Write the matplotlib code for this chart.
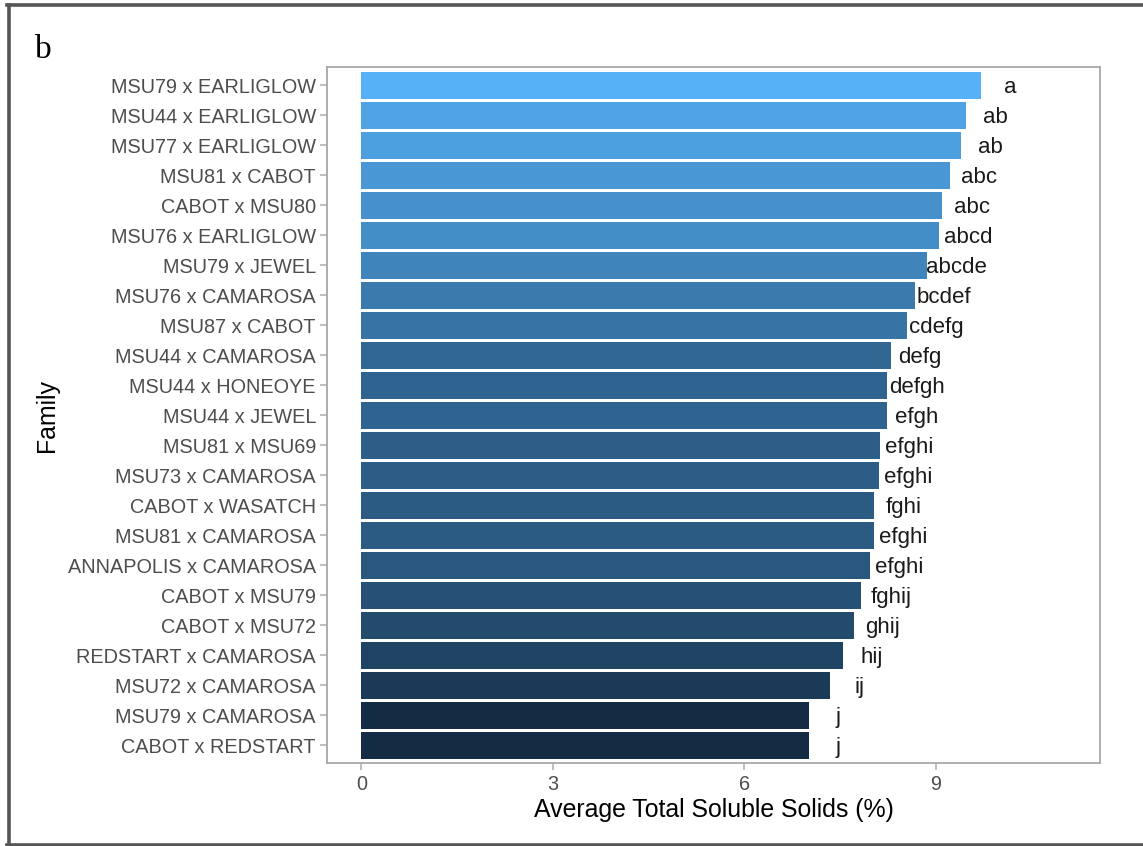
import numpy as np
import matplotlib
matplotlib.use("Agg")
import matplotlib.pyplot as plt
from matplotlib.lines import Line2D

# Mean total soluble solids per strawberry family, with mean-separation letters
families = [
    "MSU79 x EARLIGLOW", "MSU44 x EARLIGLOW", "MSU77 x EARLIGLOW", "MSU81 x CABOT",
    "CABOT x MSU80", "MSU76 x EARLIGLOW", "MSU79 x JEWEL", "MSU76 x CAMAROSA",
    "MSU87 x CABOT", "MSU44 x CAMAROSA", "MSU44 x HONEOYE", "MSU44 x JEWEL",
    "MSU81 x MSU69", "MSU73 x CAMAROSA", "CABOT x WASATCH", "MSU81 x CAMAROSA",
    "ANNAPOLIS x CAMAROSA", "CABOT x MSU79", "CABOT x MSU72", "REDSTART x CAMAROSA",
    "MSU72 x CAMAROSA", "MSU79 x CAMAROSA", "CABOT x REDSTART",
]
tss = [9.71, 9.47, 9.39, 9.22, 9.10, 9.05, 8.86, 8.67, 8.54, 8.29, 8.24, 8.24,
       8.12, 8.10, 8.03, 8.03, 7.97, 7.83, 7.71, 7.54, 7.34, 7.01, 7.01]
letters = ["a", "ab", "ab", "abc", "abc", "abcd", "abcde", "bcdef", "cdefg", "defg",
           "defgh", "efgh", "efghi", "efghi", "fghi", "efghi", "efghi", "fghij",
           "ghij", "hij", "ij", "j", "j"]
x_ticks = [0, 3, 6, 9]


# Continuous fill scale (dark navy -> light blue), interpolated in CIELAB
def _srgb_to_lab(rgb):
    c = np.asarray(rgb, float)
    lin = np.where(c <= 0.04045, c / 12.92, ((c + 0.055) / 1.055) ** 2.4)
    m = np.array([[0.4124564, 0.3575761, 0.1804375],
                  [0.2126729, 0.7151522, 0.0721750],
                  [0.0193339, 0.1191920, 0.9503041]])
    xyz = m @ lin / np.array([0.95047, 1.0, 1.08883])
    f = np.where(xyz > 216 / 24389, np.cbrt(xyz), (24389 / 27 * xyz + 16) / 116)
    return np.array([116 * f[1] - 16, 500 * (f[0] - f[1]), 200 * (f[1] - f[2])])


def _lab_to_srgb(lab):
    L, a, b = lab
    fy = (L + 16) / 116
    fx = fy + a / 500
    fz = fy - b / 200
    f = np.array([fx, fy, fz])
    xyz = np.where(f ** 3 > 216 / 24389, f ** 3, (116 * f - 16) / (24389 / 27))
    xyz = xyz * np.array([0.95047, 1.0, 1.08883])
    minv = np.array([[3.2404542, -1.5371385, -0.4985314],
                     [-0.9692660, 1.8760108, 0.0415560],
                     [0.0556434, -0.2040259, 1.0572252]])
    lin = np.clip(minv @ xyz, 0, 1)
    c = np.where(lin <= 0.0031308, 12.92 * lin, 1.055 * lin ** (1 / 2.4) - 0.055)
    return np.clip(c, 0, 1)


low = _srgb_to_lab(matplotlib.colors.to_rgb("#132B43"))
high = _srgb_to_lab(matplotlib.colors.to_rgb("#56B1F7"))
vmin, vmax = min(tss), max(tss)
fills = [_lab_to_srgb(low + (v - vmin) / (vmax - vmin) * (high - low)) for v in tss]

plt.rcParams["font.family"] = ["Liberation Sans", "DejaVu Sans"]

fig = plt.figure(figsize=(11.43, 8.46), dpi=100)
W, H = 1143, 846
ax = fig.add_axes([327 / W, 1 - 762.5 / H, (1100 - 327) / W, (762.5 - 67.5) / H])

ypos = np.arange(len(families))
ax.barh(ypos, tss, height=0.88, color=fills, edgecolor="none", zorder=2)
for y, v, lab in zip(ypos, tss, letters):
    ax.text(v + 0.46, y + 0.07, lab, ha="center", va="center", fontsize=16,
            color="#1A1A1A")

ax.set_xlim(-0.54, 11.57)
ax.set_ylim(len(families) - 1 + 0.57, -0.6)
ax.set_xticks(x_ticks)
ax.set_xticklabels([str(t) for t in x_ticks])
ax.set_yticks(ypos)
ax.set_yticklabels(families)
ax.tick_params(axis="both", colors="#B3B3B3", labelcolor="#4D4D4D", labelsize=14.3,
               length=5, width=1.2)
ax.tick_params(axis="x", pad=4)
ax.tick_params(axis="y", pad=3)
for sp in ax.spines.values():
    sp.set_color("#A8A8A8")
    sp.set_linewidth(1.3)

ax.set_xlabel("Average Total Soluble Solids (%)", fontsize=17.9, color="black", labelpad=3)
fig.text(47 / W, 1 - 415 / H, "Family", rotation=90, ha="center", va="center",
         fontsize=17.9, color="black")

# Panel letter
fig.text(35 / W, 1 - 58 / H, "b", fontsize=24, family="Liberation Serif",
         ha="left", va="baseline", color="black")

# Outer frame around the figure panel
frame_color = "#555555"
fig.add_artist(Line2D([8.5 / W, 8.5 / W], [1 - 5 / H, 1 - 845 / H],
                      transform=fig.transFigure, color=frame_color, linewidth=2.6))
fig.add_artist(Line2D([7 / W, 1.0], [1 - 5.5 / H, 1 - 5.5 / H],
                      transform=fig.transFigure, color=frame_color, linewidth=2.6))
fig.add_artist(Line2D([7 / W, 1.0], [1 - 844.7 / H, 1 - 844.7 / H],
                      transform=fig.transFigure, color=frame_color, linewidth=2.6))

fig.savefig("out.png", dpi=100)
